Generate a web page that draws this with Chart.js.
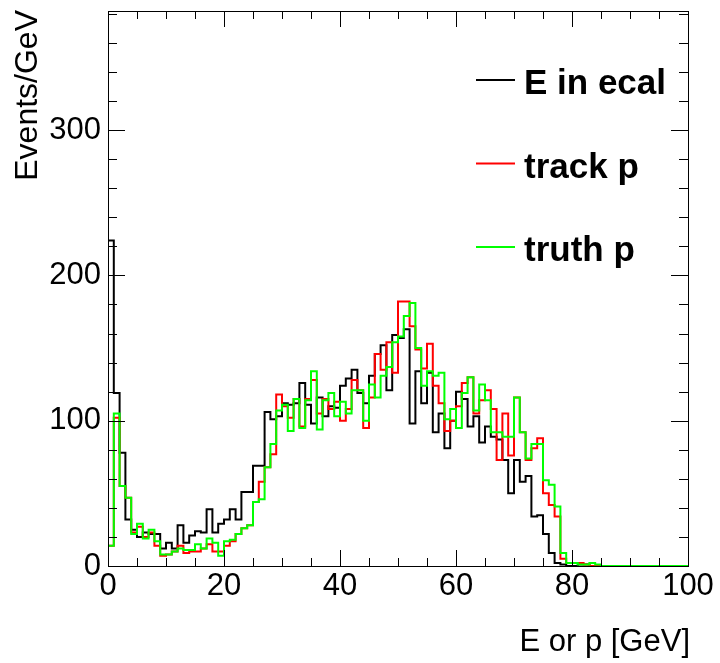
<!DOCTYPE html>
<html>
<head>
<meta charset="utf-8">
<script src="https://cdn.jsdelivr.net/npm/chart.js@4/dist/chart.umd.min.js"></script>
<style>
  html, body { margin: 0; padding: 0; background: #fff; }
  #wrap { width: 720px; height: 663px; position: relative; }
</style>
</head>
<body>
<div id="wrap"><canvas id="c"></canvas></div>
<script>
// histogramas de 1 GeV entre 0 y 100 GeV
const binLo = 0, binWidth = 1, xMax = 100, yMax = 382;

const ecal = [224,119,78,32,25,20,23,22,22,12,
  16,12,28,16,21,24,23,39,23,29,
  32,39,32,51,51,69,69,106,101,103,
  112,111,112,126,111,98,116,103,110,109,
  124,129,135,119,112,131,146,152,121,159,
  157,163,98,134,112,133,92,105,81,100,
  120,115,96,103,85,96,89,87,73,50,
  73,58,62,34,35,22,9,2,1,0,
  0,1,1,0,0,0,0,0,0,0,
  0,0,0,0,0,0,0,0,0,0];

const trackP = [14,102,55,47,23,27,20,23,14,7,
  8,10,14,9,10,10,12,15,10,10,
  14,17,22,26,28,44,58,68,77,118,
  110,102,115,96,115,128,105,115,108,113,
  100,108,128,121,95,116,146,135,154,133,
  182,182,165,149,136,153,124,112,93,100,
  110,126,130,105,114,121,108,73,105,76,
  116,92,73,81,88,50,42,34,5,2,
  2,2,1,0,0,0,0,0,0,0,
  0,0,0,0,0,0,0,0,0,0];

const truthP = [14,105,55,47,22,29,19,25,17,8,
  8,10,12,11,11,15,12,19,16,7,
  17,18,22,26,28,44,46,68,84,107,
  111,93,115,95,114,134,94,114,119,103,
  113,105,121,121,100,125,116,131,137,154,
  158,172,181,150,124,134,131,133,101,108,
  95,119,130,107,125,114,92,92,89,89,
  116,92,74,84,84,59,56,41,9,2,
  2,1,1,2,1,0,0,0,0,0,
  0,0,0,0,0,0,0,0,0,0];

const seriesLabels = ["E in ecal", "track p", "truth p"];
const seriesColors = ["#000000", "#ff0000", "#00ff00"];
const xTitle = "E or p [GeV]", yTitle = "Events/GeV";

const FONT = "'Liberation Sans', Arial, Helvetica, sans-serif";

// contorno tipo ROOT: sube desde 0 en el primer borde y baja a 0 al final
function outline(vals) {
  const pts = [{ x: binLo, y: 0 }];
  vals.forEach((v, i) => pts.push({ x: binLo + i * binWidth, y: v }));
  pts.push({ x: binLo + vals.length * binWidth, y: 0 });
  return pts;
}

// marco, ticks hacia dentro en los 4 lados, títulos y leyenda
const rootFrame = {
  id: "rootFrame",
  afterDraw(chart) {
    const { ctx, chartArea: a, scales: { x, y } } = chart;
    ctx.save();
    ctx.strokeStyle = "#000"; ctx.lineWidth = 1;
    ctx.strokeRect(a.left + 0.5, a.top + 0.5, a.right - a.left, a.bottom - a.top);
    ctx.beginPath();
    for (let v = 0; v <= xMax; v += 5) {
      const px = Math.round(x.getPixelForValue(v)) + 0.5, len = v % 20 === 0 ? 16 : 8;
      ctx.moveTo(px, a.bottom); ctx.lineTo(px, a.bottom - len);
      ctx.moveTo(px, a.top); ctx.lineTo(px, a.top + len);
    }
    for (let v = 0; v <= yMax; v += 20) {
      const py = Math.round(y.getPixelForValue(v)) + 0.5, len = v % 100 === 0 ? 17 : 9;
      ctx.moveTo(a.left, py); ctx.lineTo(a.left + len, py);
      ctx.moveTo(a.right, py); ctx.lineTo(a.right - len, py);
    }
    ctx.stroke();

    ctx.fillStyle = "#000";
    ctx.font = "31px " + FONT;
    ctx.textAlign = "right"; ctx.textBaseline = "alphabetic";
    ctx.fillText(xTitle, 690, 651);
    ctx.save();
    ctx.translate(37, 10); ctx.rotate(-Math.PI / 2);
    ctx.font = "32px " + FONT;
    ctx.fillText(yTitle, 0, 0);
    ctx.restore();

    // leyenda
    ctx.font = "bold 35px " + FONT;
    ctx.textAlign = "left";
    chart.data.datasets.forEach((ds, i) => {
      const ly = 80 + i * 83.5;
      ctx.strokeStyle = ds.borderColor; ctx.lineWidth = 2;
      ctx.beginPath(); ctx.moveTo(476, ly); ctx.lineTo(515, ly); ctx.stroke();
      ctx.fillText(ds.label, 524, ly + 14);
    });
    ctx.restore();
  },
};

Chart.defaults.color = "#000";
Chart.defaults.font.family = FONT;

const datasets = [ecal, trackP, truthP].map((vals, i) => ({
  label: seriesLabels[i],
  data: outline(vals),
  borderColor: seriesColors[i],
  borderWidth: 2,
  stepped: true,
  pointRadius: 0,
  fill: false,
  order: 3 - i,
}));

new Chart(document.getElementById("c"), {
  type: "line",
  data: { datasets },
  options: {
    responsive: true, maintainAspectRatio: false, animation: false,
    layout: { padding: { top: 11, right: 32, left: 0, bottom: 0 } },
    plugins: { legend: { display: false }, tooltip: { enabled: false } },
    scales: {
      x: {
        type: "linear", min: 0, max: xMax,
        afterFit: (s) => { s.height = 97; s.paddingLeft = 0; s.paddingRight = 0; },
        grid: { display: false, drawTicks: false, tickLength: 0 },
        border: { display: false },
        ticks: { stepSize: 20, padding: 2, maxRotation: 0, font: { size: 31 } },
      },
      y: {
        type: "linear", min: 0, max: yMax,
        afterFit: (s) => { s.width = 108; s.paddingTop = 0; s.paddingBottom = 0; },
        grid: { display: false, drawTicks: false, tickLength: 0 },
        border: { display: false },
        ticks: { stepSize: 100, includeBounds: false, padding: 7, font: { size: 31 } },
      },
    },
  },
  plugins: [rootFrame],
});
</script>
</body>
</html>
